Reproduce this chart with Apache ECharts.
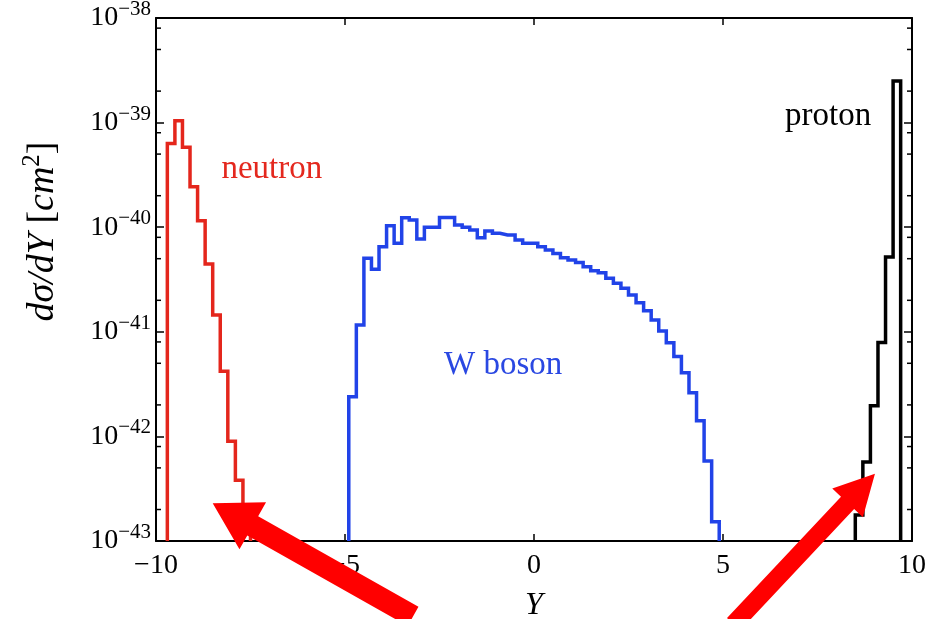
<!DOCTYPE html>
<html>
<head>
<meta charset="utf-8">
<script src="https://cdn.jsdelivr.net/npm/echarts@6/dist/echarts.min.js"></script>
<style>
html, body { margin: 0; padding: 0; background: #fff; }
#chart { width: 936px; height: 619px; }
</style>
</head>
<body>
<div id="chart"></div>
<script>
// histograms, bins 0.2 wide with edges on odd tenths
const binWidth = 0.2

const neutronStart = -9.7
const neutronValues = [6.3e-40, 1.04e-39, 5.8e-40, 2.44e-40, 1.15e-40, 4.45e-41, 1.45e-41, 4.2e-42, 9.0e-43, 3.8e-43, 1.3e-43]

const wStart = -4.9
const wValues = [2.40e-42, 1.16e-41, 5.04e-41, 3.96e-41, 6.51e-41, 1.03e-40, 7.02e-41, 1.23e-40, 1.17e-40, 7.71e-41,
  9.98e-41, 9.98e-41, 1.24e-40, 1.24e-40, 1.05e-40, 1.00e-40, 9.40e-41, 7.94e-41, 9.20e-41, 8.75e-41,
  8.42e-41, 8.42e-41, 7.55e-41, 7.02e-41, 7.02e-41, 6.51e-41, 6.05e-41, 5.62e-41, 5.11e-41, 4.85e-41,
  4.61e-41, 4.19e-41, 3.84e-41, 3.67e-41, 3.25e-41, 2.91e-41, 2.61e-41, 2.25e-41, 1.90e-41, 1.59e-41,
  1.30e-41, 1.02e-41, 7.87e-42, 5.81e-42, 4.06e-42, 2.62e-42, 1.41e-42, 5.82e-43, 1.53e-43]

const protonStart = 8.5
const protonValues = [1.77e-43, 5.7e-43, 1.96e-42, 7.9e-42, 5.2e-41, 2.5e-39]

// axis ticks
const xTicks = [-10, -5, 0, 5, 10]
const yMin = 1e-43
const yMax = 1e-38
const minorMantissas = [2, 5, 8]

// text annotations
const noteTexts = ['neutron', 'W boson', 'proton']
const noteX = [-8.27, -2.38, 6.64]
const noteY = [3.6e-40, 4.8e-42, 1.15e-39]
const noteColors = ['#e4281e', '#2a48e2', '#000000']

// red arrows: tip and tail
const arrowTipX = [-8.5, 9.02]
const arrowTipY = [2.3e-43, 4.4e-43]
const arrowTailX = [-3.2, 5.28]
const arrowTailY = [1.9e-44, 1.6e-44]
const arrowSize = [[46, 27, 11], [40, 21, 9]] // head length, head half width, shaft half width

// log axis ticks round tiny numbers to 0, so plot in units of 1e-43
const UNIT = 1e-43
const FONT = '"Liberation Serif", "DejaVu Serif", serif'

function steps(start, values) {
  const pts = [[start, yMin / UNIT]]
  values.forEach((v, i) => pts.push([start + i * binWidth, v / UNIT]))
  const end = start + values.length * binWidth
  pts.push([end, values[values.length - 1] / UNIT])
  pts.push([end, yMin / UNIT])
  return pts
}

function histSeries(name, start, values, color) {
  return {
    name,
    type: 'line',
    step: 'end',
    symbol: 'none',
    data: steps(start, values),
    lineStyle: { color, width: 3.5, join: 'miter' },
    clip: true,
    z: 3,
  }
}

const minorData = []
for (let d = Math.log10(yMin / UNIT); d < Math.log10(yMax / UNIT); d++) {
  minorMantissas.forEach(m => minorData.push([xTicks[0], m * Math.pow(10, d)]))
}

const chart = echarts.init(document.getElementById('chart'))

const xCommon = {
  type: 'value',
  min: xTicks[0],
  max: xTicks[xTicks.length - 1],
  interval: 5,
  splitLine: { show: false },
  axisLine: { onZero: false, lineStyle: { color: '#000', width: 2 } },
  axisTick: { inside: true, length: 7, lineStyle: { color: '#000', width: 1.5 } },
}
const yCommon = {
  type: 'log',
  logBase: 10,
  min: yMin / UNIT,
  max: yMax / UNIT,
  splitNumber: 5,
  splitLine: { show: false },
  minorTick: { show: false },
  axisLine: { onZero: false, lineStyle: { color: '#000', width: 2 } },
  axisTick: { inside: true, length: 8, lineStyle: { color: '#000', width: 1.5 } },
}

const option = {
  animation: false,
  backgroundColor: '#fff',
  grid: { left: 156, right: 24, top: 18, bottom: 78, containLabel: false, outerBoundsMode: 'none' },
  xAxis: [
    {
      ...xCommon,
      position: 'bottom',
      axisLabel: {
        margin: 11,
        color: '#000',
        fontFamily: FONT,
        fontSize: 28,
        formatter: v => (v < 0 ? '\u2212' + Math.abs(v) : String(v)),
      },
      name: 'Y',
      nameLocation: 'middle',
      nameGap: 49,
      nameTextStyle: { color: '#000', fontFamily: FONT, fontStyle: 'italic', fontSize: 32 },
    },
    { ...xCommon, position: 'top', axisLabel: { show: false } },
  ],
  yAxis: [
    {
      ...yCommon,
      position: 'left',
      axisLabel: {
        margin: 5,
        color: '#000',
        formatter: v => {
          const e = Math.round(Math.log10(v * UNIT))
          return '{b|10}{s|' + (e < 0 ? '\u2212' : '') + Math.abs(e) + '}'
        },
        rich: {
          b: { fontFamily: FONT, fontSize: 28, color: '#000', lineHeight: 38 },
          s: { fontFamily: FONT, fontSize: 21, color: '#000', lineHeight: 22, verticalAlign: 'top' },
        },
      },
      name: '{i|d\u03c3/dY\u00a0}{r|[}{i|cm}{t|2}{r|]}',
      nameLocation: 'middle',
      nameRotate: 90,
      nameGap: 90,
      nameTextStyle: {
        padding: [0, 0, 0, 96],
        rich: {
          i: { fontFamily: FONT, fontStyle: 'italic', fontSize: 38, color: '#000', lineHeight: 46 },
          r: { fontFamily: FONT, fontSize: 38, color: '#000', lineHeight: 46 },
          t: { fontFamily: FONT, fontSize: 25, color: '#000', lineHeight: 26, verticalAlign: 'top' },
        },
      },
    },
    { ...yCommon, position: 'right', axisLabel: { show: false } },
  ],
  series: [
    histSeries('neutron', neutronStart, neutronValues, '#e4261c'),
    histSeries('W boson', wStart, wValues, '#2143e8'),
    histSeries('proton', protonStart, protonValues, '#000000'),
    {
      name: 'minor ticks',
      type: 'custom',
      data: minorData,
      z: 4,
      renderItem(params, api) {
        const l = api.coord([xTicks[0], api.value(1)])
        const r = api.coord([xTicks[xTicks.length - 1], api.value(1)])
        const style = { stroke: '#000', lineWidth: 1.5 }
        return {
          type: 'group',
          children: [
            { type: 'line', shape: { x1: l[0], y1: l[1], x2: l[0] + 5, y2: l[1] }, style },
            { type: 'line', shape: { x1: r[0], y1: r[1], x2: r[0] - 5, y2: r[1] }, style },
          ],
        }
      },
    },
    {
      name: 'notes',
      type: 'custom',
      data: noteTexts.map((t, i) => [noteX[i], noteY[i] / UNIT]),
      z: 5,
      renderItem(params, api) {
        const p = api.coord([api.value(0), api.value(1)])
        const i = params.dataIndex
        return {
          type: 'text',
          x: p[0],
          y: p[1],
          style: {
            text: noteTexts[i],
            fill: noteColors[i],
            fontFamily: FONT,
            fontSize: 33,
            align: 'left',
            verticalAlign: 'middle',
          },
        }
      },
    },
    {
      name: 'arrows',
      type: 'custom',
      clip: false,
      data: arrowTipX.map((x, i) => [x, arrowTipY[i] / UNIT, arrowTailX[i], arrowTailY[i] / UNIT]),
      z: 10,
      renderItem(params, api) {
        const tip = api.coord([api.value(0), api.value(1)])
        const tail = api.coord([api.value(2), api.value(3)])
        const [L, H, S] = arrowSize[params.dataIndex]
        const dx = tail[0] - tip[0]
        const dy = tail[1] - tip[1]
        const len = Math.hypot(dx, dy)
        const ux = dx / len, uy = dy / len
        const nx = -uy, ny = ux
        const bx = tip[0] + ux * L, by = tip[1] + uy * L
        const points = [
          tip,
          [bx + nx * H, by + ny * H],
          [bx + nx * S, by + ny * S],
          [tail[0] + nx * S, tail[1] + ny * S],
          [tail[0] - nx * S, tail[1] - ny * S],
          [bx - nx * S, by - ny * S],
          [bx - nx * H, by - ny * H],
        ]
        return { type: 'polygon', shape: { points }, style: { fill: '#ff0000' } }
      },
    },
  ],
}

chart.setOption(option)
</script>
</body>
</html>
